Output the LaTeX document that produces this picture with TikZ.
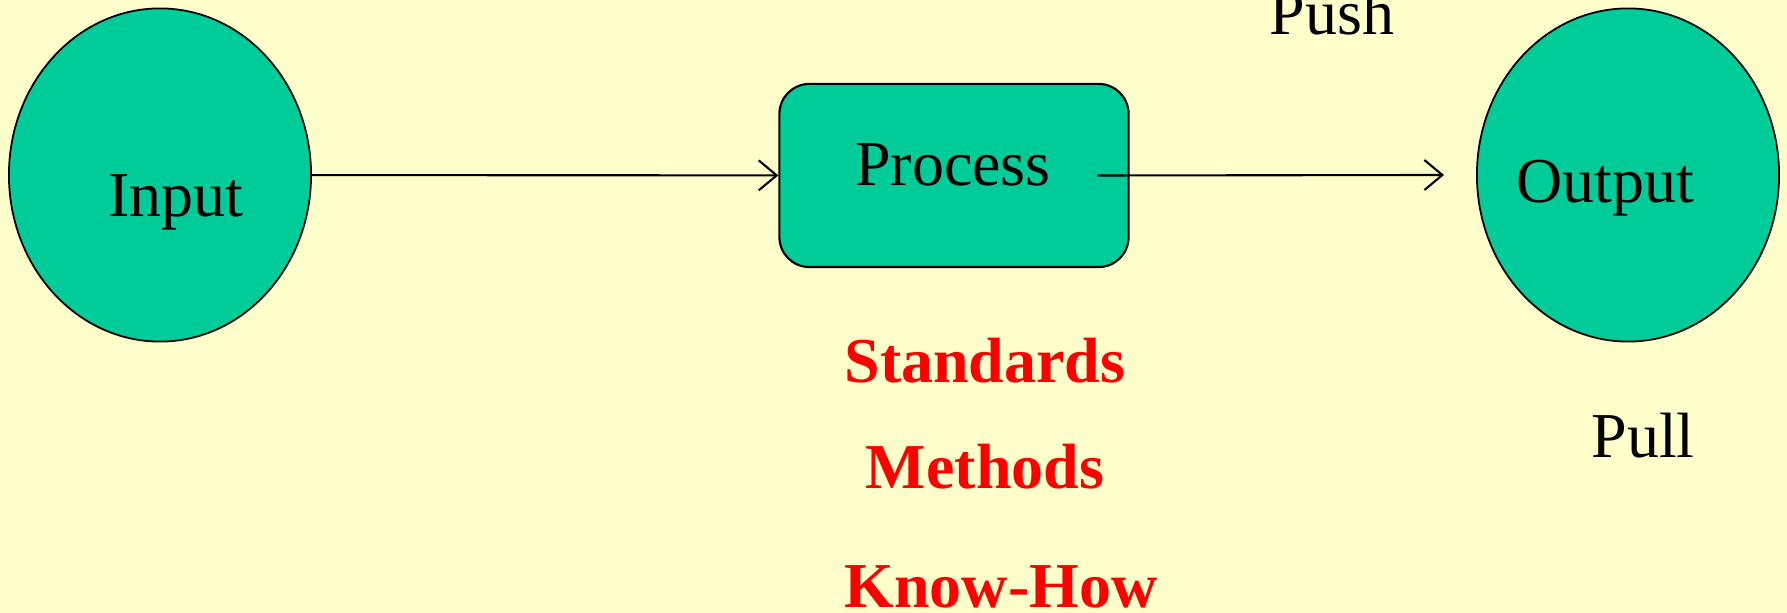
\documentclass[tikz,border=0pt]{standalone}
\usepackage{fontspec}
\setmainfont{Liberation Serif}
\usepackage{xcolor}
\usepackage{tikz}
\usetikzlibrary{shapes.geometric, positioning, arrows.meta, calc}

\definecolor{paper}{HTML}{FFFFCC}
\definecolor{sea}{HTML}{00CC99}

\begin{document}
\begin{tikzpicture}[
	  x=0.01cm, y=-0.01cm,
	  font=\fontsize{18.2}{22}\selectfont,
	  blob/.style={
	    draw,
	    ellipse,
	    line width=0.5pt,
	    fill=sea,
	    inner sep=0pt,
	    minimum width=3.02cm,
	    minimum height=3.33cm
	  },
	  procbox/.style={
	    draw,
	    line width=0.6pt,
	    fill=sea,
	    rounded corners=0.3cm,
	    minimum width=3.49cm,
	    minimum height=1.83cm
	  },
	  txt/.style={anchor=base, inner sep=0pt},
	  redtxt/.style={txt, text=red, font=\fontsize{18.2}{22}\selectfont\bfseries},
	  arrow/.style={-{Straight Barb[length=0.18cm, width=0.3cm]}, line width=0.6pt}
	]

	% --- background ---
	\fill[paper] (0,0) rectangle (1787,613);
	\useasboundingbox (0,0) rectangle (1787,613);

	% --- shapes ---
	\node[blob] (input) at (160,175) {};
	\node[procbox] (process) at (954,175.5) {};
	\node[blob] (output) at (1628,175) {};

	% --- labels ---
	\node[txt] (inputtxt) at (176,217) {Input};
	\node[txt] (processtxt) at (953,186) {Process};
	\node[txt] (outputtxt) at (1605,203) {Output};
	\node[txt] (push) at (1332,35) {Push};
	\node[txt] (pull) at (1643,458) {Pull};
	\node[redtxt] (standards) at (985,383) {Standards};
	\node[redtxt] (methods) at (985,489) {Methods};
	\node[redtxt] (knowhow) at (1001,608) {Know-How};

	% --- Flows ---
	\coordinate (outstart) at ($(process.east)+(-32,0)$);
	\coordinate (outend) at ($(output.west)+(-32,0)$);
	\draw[arrow] (input) -- (process);
	\draw[arrow] (outstart) -- (outend);

\end{tikzpicture}
\end{document}
